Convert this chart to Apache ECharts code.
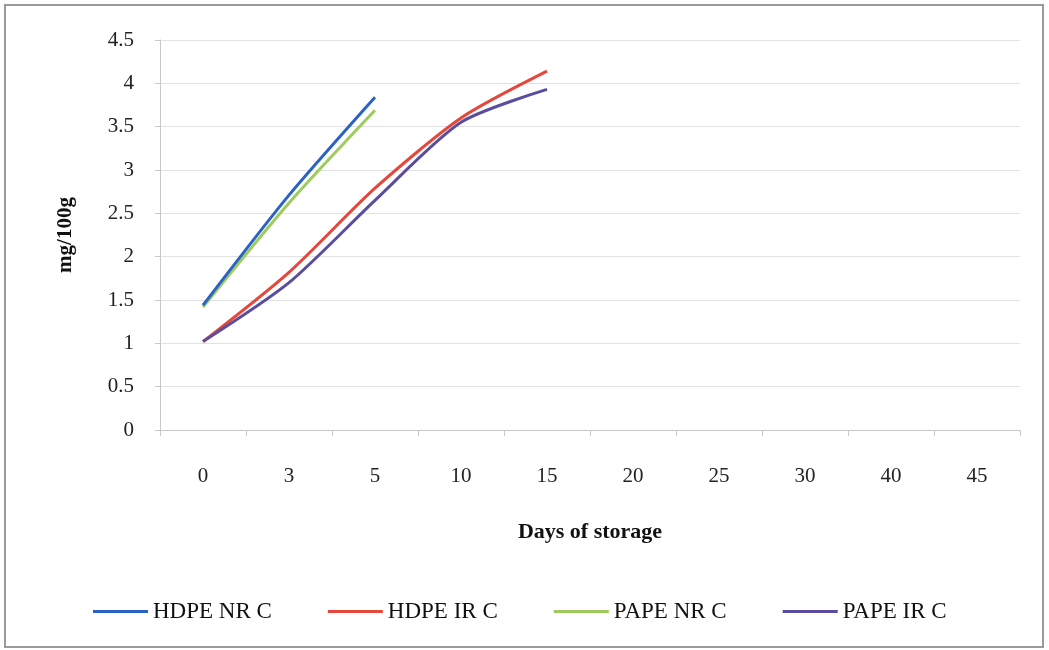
<!DOCTYPE html>
<html>
<head>
<meta charset="utf-8">
<style>
  html, body { margin: 0; padding: 0; background: #fff; }
  #chart { width: 1049px; height: 650px; }
</style>
<script src="https://cdn.jsdelivr.net/npm/echarts@6/dist/echarts.min.js"></script>
</head>
<body>
<div id="chart"></div>
<script>
// Days of storage (category axis)
const days = ['0', '3', '5', '10', '15', '20', '25', '30', '40', '45'];

// mg/100g readings per packaging/treatment
const hdpeNrC = [1.44, 2.71, 3.84];
const hdpeIrC = [1.02, 1.82, 2.79, 3.60, 4.14];
const papeNrC = [1.42, 2.62, 3.69];
const papeIrC = [1.02, 1.70, 2.65, 3.55, 3.93];

const seriesNames = ['HDPE NR C', 'HDPE IR C', 'PAPE NR C', 'PAPE IR C'];
const seriesData = [hdpeNrC, hdpeIrC, papeNrC, papeIrC];
const seriesColors = ['#2b63c4', '#e4473b', '#9dcb5d', '#5b4d9e'];

const serif = '"Liberation Serif", "Times New Roman", serif';

const chart = echarts.init(document.getElementById('chart'), null, { renderer: 'canvas' });

chart.setOption({
  animation: false,
  backgroundColor: '#ffffff',
  graphic: [{
    type: 'rect',
    shape: { x: 5, y: 5, width: 1038, height: 642 },
    style: { fill: 'none', stroke: '#9a9a9a', lineWidth: 2 },
    silent: true
  }],
  grid: { left: 160, right: 29, top: 40, bottom: 220 },
  legend: {
    data: seriesNames,
    bottom: 22,
    left: 88,
    icon: 'rect',
    itemWidth: 55,
    itemHeight: 3,
    itemGap: 56,
    textStyle: { fontFamily: serif, fontSize: 23, color: '#111' }
  },
  xAxis: {
    type: 'category',
    data: days,
    boundaryGap: true,
    name: 'Days of storage',
    nameLocation: 'middle',
    nameGap: 91,
    nameTextStyle: { fontFamily: serif, fontSize: 22, fontWeight: 'bold', color: '#111' },
    axisLine: { lineStyle: { color: '#c8c8c8', width: 1 } },
    axisTick: { show: true, length: 6, lineStyle: { color: '#c8c8c8' } },
    axisLabel: { fontFamily: serif, fontSize: 21, color: '#222', margin: 36 },
    splitLine: { show: false }
  },
  yAxis: {
    type: 'value',
    min: 0,
    max: 4.5,
    interval: 0.5,
    name: 'mg/100g',
    nameLocation: 'middle',
    nameGap: 84,
    nameRotate: 90,
    nameTextStyle: { fontFamily: serif, fontSize: 21, fontWeight: 'bold', color: '#111' },
    axisLine: { show: true, lineStyle: { color: '#c8c8c8', width: 1 } },
    axisTick: { show: true, length: 5, lineStyle: { color: '#c8c8c8' } },
    axisLabel: { fontFamily: serif, fontSize: 21, color: '#222', margin: 26 },
    splitLine: { show: true, lineStyle: { color: '#e2e2e2', width: 1 } }
  },
  series: seriesNames.map((name, i) => ({
    name: name,
    type: 'line',
    data: seriesData[i],
    smooth: 0.25,
    showSymbol: false,
    symbol: 'none',
    lineStyle: { color: seriesColors[i], width: 3 },
    itemStyle: { color: seriesColors[i] },
    z: i === 0 ? 3 : 2
  }))
});
</script>
</body>
</html>
